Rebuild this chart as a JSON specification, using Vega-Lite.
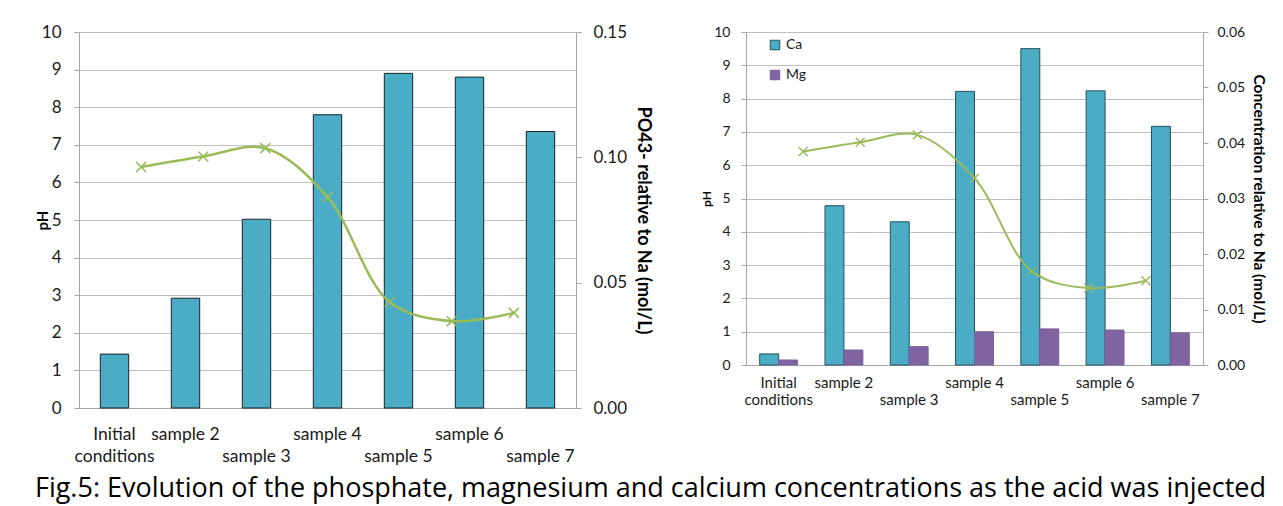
{
  "$schema": "https://vega.github.io/schema/vega-lite/v6.json",
  "background": "white",
  "padding": {"left": 34, "top": 23, "right": 5, "bottom": 2},
  "config": {
    "font": "Lato",
    "view": {"stroke": null},
    "axis": {"labelColor": "#1a1a1a", "titleColor": "#000000", "domainColor": "#A6A6A6", "tickColor": "#A6A6A6", "gridColor": "#BFBFBF"}
  },
  "title": {
    "text": "Fig.5: Evolution of the phosphate, magnesium and calcium concentrations as the acid was injected",
    "orient": "bottom",
    "anchor": "middle",
    "fontSize": 27,
    "fontWeight": "normal",
    "font": "Open Sans",
    "color": "#000000",
    "offset": 11
  },
  "datasets": {
    "samples": [
      {"sample": "Initial conditions", "idx": 1, "pH": 6.41, "PO4": 0.0215, "Ca": 0.0020, "Mg": 0.0009},
      {"sample": "sample 2", "idx": 2, "pH": 6.69, "PO4": 0.0438, "Ca": 0.0287, "Mg": 0.0027},
      {"sample": "sample 3", "idx": 3, "pH": 6.91, "PO4": 0.0753, "Ca": 0.0258, "Mg": 0.0033},
      {"sample": "sample 4", "idx": 4, "pH": 5.61, "PO4": 0.1170, "Ca": 0.0493, "Mg": 0.0060},
      {"sample": "sample 5", "idx": 5, "pH": 2.82, "PO4": 0.1335, "Ca": 0.0570, "Mg": 0.0065},
      {"sample": "sample 6", "idx": 6, "pH": 2.31, "PO4": 0.1320, "Ca": 0.0494, "Mg": 0.0063},
      {"sample": "sample 7", "idx": 7, "pH": 2.53, "PO4": 0.1103, "Ca": 0.0430, "Mg": 0.0058}
    ]
  },
  "spacing": 48,
  "resolve": {"legend": {"color": "independent", "stroke": "independent"}},
  "hconcat": [
    {
      "width": 497,
      "height": 376,
      "data": {"name": "samples"},
      "layer": [
        {
          "mark": {"type": "bar", "fill": "#4BACC6", "stroke": "#1A2226", "strokeWidth": 1},
          "encoding": {
            "x": {
              "field": "sample", "type": "nominal", "sort": null,
              "scale": {"paddingInner": 0.6, "paddingOuter": 0.3},
              "axis": {
                "title": null, "labelAngle": 0, "ticks": false, "labelFontSize": 17.5,
                "labelPadding": 17, "labelLineHeight": 22, "labelOverlap": false, "labelAlign": "center",
                "labelExpr": "datum.value == 'Initial conditions' ? ['Initial', 'conditions'] : (datum.value == 'sample 3' || datum.value == 'sample 5' || datum.value == 'sample 7') ? ['', datum.value] : datum.value"
              }
            },
            "y": {
              "field": "PO4", "type": "quantitative",
              "scale": {"domain": [0, 0.15], "nice": false, "zero": true},
              "axis": {
                "orient": "right", "values": [0, 0.05, 0.1, 0.15], "format": ".2f", "grid": false,
                "tickSize": 5, "labelPadding": 12, "labelFontSize": 17,
                "title": "PO43- relative to Na  (mol/L)", "titleFontSize": 18, "titleFontWeight": "bold", "titlePadding": 7
              }
            }
          }
        },
        {
          "layer": [
            {
              "mark": {"type": "line", "color": "#9BBB59", "strokeWidth": 2.5, "interpolate": "catmull-rom"},
              "encoding": {}
            },
            {
              "mark": {"type": "point", "shape": "M-1,-1L1,1M-1,1L1,-1", "filled": false, "stroke": "#9BBB59", "strokeWidth": 1.6, "size": 100, "opacity": 1},
              "encoding": {}
            }
          ],
          "encoding": {
            "x": {"field": "idx", "type": "quantitative", "scale": {"domain": [0, 8], "nice": false}, "axis": null},
            "y": {
              "field": "pH", "type": "quantitative",
              "scale": {"domain": [0, 10], "nice": false},
              "axis": {
                "orient": "left", "values": [0, 1, 2, 3, 4, 5, 6, 7, 8, 9, 10], "grid": true,
                "tickSize": 5, "labelPadding": 13, "labelFontSize": 17,
                "title": "pH", "titleFontSize": 15, "titleFontWeight": "bold", "titlePadding": -9
              }
            }
          }
        }
      ],
      "resolve": {"scale": {"x": "independent", "y": "independent"}}
    },
    {
      "width": 457,
      "height": 333,
      "data": {"name": "samples"},
      "layer": [
        {
          "transform": [{"fold": ["Ca", "Mg"], "as": ["element", "conc"]}],
          "mark": {"type": "bar", "strokeWidth": 1},
          "encoding": {
            "x": {
              "field": "sample", "type": "nominal", "sort": null,
              "scale": {"paddingInner": 0.42, "paddingOuter": 0.21},
              "axis": {
                "title": null, "labelAngle": 0, "ticks": false, "labelFontSize": 15,
                "labelPadding": 10, "labelLineHeight": 17, "labelOverlap": false, "labelAlign": "center",
                "labelExpr": "datum.value == 'Initial conditions' ? ['Initial', 'conditions'] : (datum.value == 'sample 3' || datum.value == 'sample 5' || datum.value == 'sample 7') ? ['', datum.value] : datum.value"
              }
            },
            "xOffset": {"field": "element", "type": "nominal", "sort": ["Ca", "Mg"]},
            "y": {
              "field": "conc", "type": "quantitative",
              "scale": {"domain": [0, 0.06], "nice": false, "zero": true},
              "axis": {
                "orient": "right", "values": [0, 0.01, 0.02, 0.03, 0.04, 0.05, 0.06], "format": ".2f", "grid": false,
                "tickSize": 5, "labelPadding": 9, "labelFontSize": 14,
                "title": "Concentration relative to Na  (mol/L)", "titleFontSize": 15.5, "titleFontWeight": "bold", "titlePadding": 6
              }
            },
            "color": {
              "field": "element", "type": "nominal",
              "scale": {"domain": ["Ca", "Mg"], "range": ["#4BACC6", "#8064A2"]},
              "legend": {"orient": "none", "legendX": 22, "legendY": 6, "title": null, "padding": 0, "rowPadding": 16, "symbolType": "square", "symbolSize": 90, "labelFontSize": 14, "labelColor": "#1a1a1a", "symbolStrokeWidth": 1}
            },
            "stroke": {
              "field": "element", "type": "nominal",
              "scale": {"domain": ["Ca", "Mg"], "range": ["#23505C", "#7A5E9C"]},
              "legend": {"orient": "none", "legendX": 22, "legendY": 6, "title": null, "padding": 0, "rowPadding": 16, "symbolType": "square", "symbolSize": 90, "labelFontSize": 14, "labelColor": "#1a1a1a", "symbolStrokeWidth": 1}
            }
          }
        },
        {
          "layer": [
            {
              "mark": {"type": "line", "color": "#9BBB59", "strokeWidth": 2, "interpolate": "catmull-rom"},
              "encoding": {}
            },
            {
              "mark": {"type": "point", "shape": "M-1,-1L1,1M-1,1L1,-1", "filled": false, "stroke": "#9BBB59", "strokeWidth": 1.4, "size": 80, "opacity": 1},
              "encoding": {}
            }
          ],
          "encoding": {
            "x": {"field": "idx", "type": "quantitative", "scale": {"domain": [0, 8], "nice": false}, "axis": null},
            "y": {
              "field": "pH", "type": "quantitative",
              "scale": {"domain": [0, 10], "nice": false},
              "axis": {
                "orient": "left", "values": [0, 1, 2, 3, 4, 5, 6, 7, 8, 9, 10], "grid": true,
                "tickSize": 5, "labelPadding": 11, "labelFontSize": 14,
                "title": "pH", "titleFontSize": 12, "titleFontWeight": "bold", "titlePadding": 0
              }
            }
          }
        }
      ],
      "resolve": {"scale": {"x": "independent", "y": "independent"}}
    }
  ]
}
